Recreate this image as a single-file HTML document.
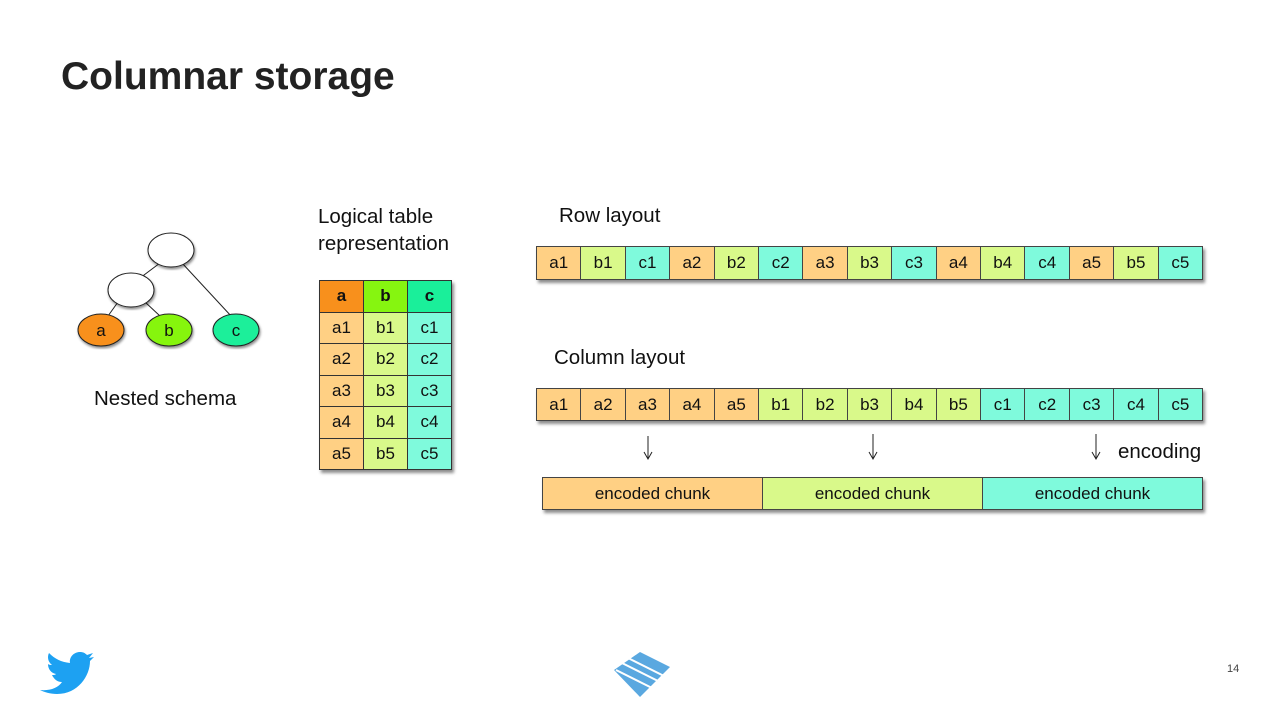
<!DOCTYPE html>
<html><head><meta charset="utf-8"><style>
body{margin:0;width:1280px;height:720px;background:#fff;position:relative;overflow:hidden;font-family:"Liberation Sans",sans-serif;color:#111}
.t{position:absolute;white-space:nowrap}
.strip{position:absolute;display:flex;box-shadow:2px 3px 3px rgba(0,0,0,.45);border:1px solid #444}
.strip div{flex:1;text-align:center;font-size:17px;border-right:1px solid #444;box-sizing:border-box}
.strip div:last-child{border-right:none}
.A{background:#ffd084}.B{background:#d9f98a}.C{background:#7ffadc}
table{position:absolute;left:319px;top:280px;border-collapse:collapse;box-shadow:2px 3px 3px rgba(0,0,0,.45)}
td{border:1px solid #333;width:43px;height:30.5px;text-align:center;font-size:17px;padding:0}
</style></head><body>
<div class="t" style="left:61px;top:55px;font-size:39px;font-weight:bold;color:#222">Columnar storage</div>
<svg style="position:absolute;left:0;top:0" width="1280" height="720">
<defs><filter id="s"><feDropShadow dx="1" dy="2" stdDeviation="1.2" flood-opacity=".45"/></filter></defs>
<g stroke="#222" stroke-width="1"><line x1="160" y1="263" x2="140" y2="278"/><line x1="182" y1="263" x2="232" y2="317"/><line x1="118" y1="302" x2="108" y2="316"/><line x1="145" y1="302" x2="160" y2="316"/>
<ellipse cx="171" cy="250" rx="23" ry="17" fill="#fff" filter="url(#s)"/>
<ellipse cx="131" cy="290" rx="23" ry="17" fill="#fff" filter="url(#s)"/>
<ellipse cx="101" cy="330" rx="23" ry="16" fill="#f8901c" filter="url(#s)"/>
<ellipse cx="169" cy="330" rx="23" ry="16" fill="#86f510" filter="url(#s)"/>
<ellipse cx="236" cy="330" rx="23" ry="16" fill="#1aef9a" filter="url(#s)"/></g>
<g font-size="17" text-anchor="middle" fill="#111"><text x="101" y="336">a</text><text x="169" y="336">b</text><text x="236" y="336">c</text></g>
<g stroke="#222" fill="none"><line x1="648" y1="436" x2="648" y2="458"/><path d="M644 452l4 7 4-7"/><line x1="873" y1="434" x2="873" y2="458"/><path d="M869 452l4 7 4-7"/><line x1="1096" y1="434" x2="1096" y2="458"/><path d="M1092 452l4 7 4-7"/></g>
<g fill="#5aa8e0"><path d="M640 652l30 15-30 30-26-27z"/></g>
<g stroke="#fff" stroke-width="2"><line x1="620" y1="662" x2="660" y2="682"/><line x1="616" y1="670" x2="652" y2="688"/><line x1="624" y1="656" x2="664" y2="676"/></g>
<path fill="#1da1f2" d="M40 690c10 1 18-2 22-8-5 0-8-3-10-7 2 0 3 0 4-1-5-1-8-5-8-10 1 1 3 1 4 1-4-3-5-8-3-12 6 6 12 9 21 10-1-6 4-11 10-11 3 0 5 1 7 3l6-2-4 5 5-1-4 4c0 15-12 33-33 33-7 0-13-2-17-4z"/>
</svg>
<div class="t" style="left:94px;top:387px;font-size:20.5px">Nested schema</div>
<div class="t" style="left:318px;top:203px;font-size:20.5px;line-height:27px">Logical table<br>representation</div>
<div class="t" style="left:559px;top:204px;font-size:20.5px">Row layout</div>
<div class="t" style="left:554px;top:346px;font-size:20.5px">Column layout</div>
<div class="t" style="left:1118px;top:440px;font-size:20.5px">encoding</div>
<table>
<tr><td style="background:#f8901c;font-weight:bold">a</td><td style="background:#86f510;font-weight:bold">b</td><td style="background:#1aef9a;font-weight:bold">c</td></tr>
<tr><td class="A">a1</td><td class="B">b1</td><td class="C">c1</td></tr>
<tr><td class="A">a2</td><td class="B">b2</td><td class="C">c2</td></tr>
<tr><td class="A">a3</td><td class="B">b3</td><td class="C">c3</td></tr>
<tr><td class="A">a4</td><td class="B">b4</td><td class="C">c4</td></tr>
<tr><td class="A">a5</td><td class="B">b5</td><td class="C">c5</td></tr>
</table>
<div class="strip" style="left:536px;top:246px;width:665px;height:32px;line-height:32px">
<div class="A">a1</div><div class="B">b1</div><div class="C">c1</div><div class="A">a2</div><div class="B">b2</div><div class="C">c2</div><div class="A">a3</div><div class="B">b3</div><div class="C">c3</div><div class="A">a4</div><div class="B">b4</div><div class="C">c4</div><div class="A">a5</div><div class="B">b5</div><div class="C">c5</div></div>
<div class="strip" style="left:536px;top:388px;width:665px;height:31px;line-height:31px">
<div class="A">a1</div><div class="A">a2</div><div class="A">a3</div><div class="A">a4</div><div class="A">a5</div><div class="B">b1</div><div class="B">b2</div><div class="B">b3</div><div class="B">b4</div><div class="B">b5</div><div class="C">c1</div><div class="C">c2</div><div class="C">c3</div><div class="C">c4</div><div class="C">c5</div></div>
<div class="strip" style="left:542px;top:477px;width:659px;height:31px;line-height:31px">
<div class="A">encoded chunk</div><div class="B">encoded chunk</div><div class="C">encoded chunk</div></div>
<div class="t" style="left:1227px;top:663px;font-size:11px;color:#444">14</div>
</body></html>
